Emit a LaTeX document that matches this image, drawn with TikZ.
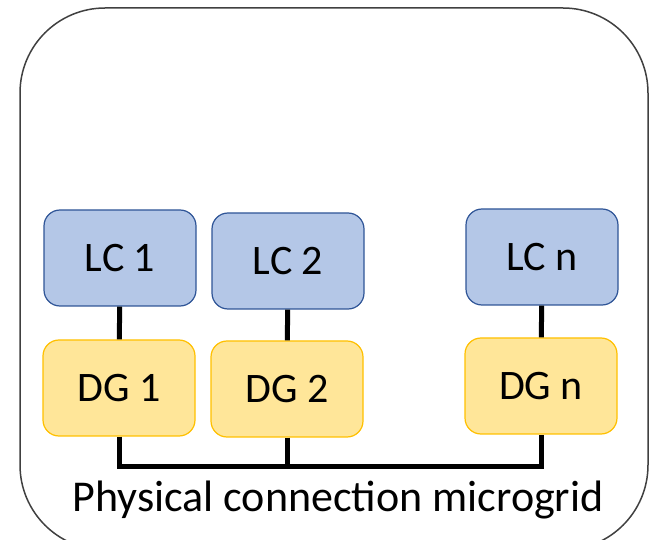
\documentclass[tikz,border=0pt]{standalone}
\usepackage{fontspec}
\setmainfont{Carlito}
\definecolor{lcfill}{HTML}{B4C7E7}
\definecolor{lcline}{HTML}{2F5597}
\definecolor{dgfill}{HTML}{FFE699}
\definecolor{dgline}{HTML}{FFC000}
\begin{document}
\begin{tikzpicture}[x=1pt, y=-1pt, font=\fontsize{42}{44}\selectfont,
  lcbox/.style={draw=lcline, fill=lcfill, line width=1.2pt, rounded corners=16pt,
    minimum width=152pt, minimum height=96pt, inner sep=0pt},
  dgbox/.style={draw=dgline, fill=dgfill, line width=1.2pt, rounded corners=16pt,
    minimum width=152pt, minimum height=96pt, inner sep=0pt},
  wire/.style={line width=5pt}]
\useasboundingbox (0,0) rectangle (649,540);
%frame
\draw[black!75, line width=1.5pt, rounded corners=85pt] (20,8) rectangle (648,550);
%controllers and generators
\node[lcbox] (lc1) at (120,258) {LC 1};
\node[lcbox] (lc2) at (288,261) {LC 2};
\node[lcbox] (lcn) at (542,257) {LC n};
\node[dgbox] (dg1) at (119,388) {DG 1};
\node[dgbox] (dg2) at (287,389) {DG 2};
\node[dgbox] (dgn) at (541,386) {DG n};
%links
\foreach \i in {1,2,n}
\draw[wire] (lc\i) -- (dg\i);
\coordinate (bus) at (287,467);
\draw[wire] (dg1.south) |- (bus) -| (dgn.south);
\draw[wire] (dg2.south) -- (bus);
%label
\node[font=\fontsize{44}{46}\selectfont] (lbl) at (338,500) {Physical connection microgrid};
\end{tikzpicture}
\end{document}
